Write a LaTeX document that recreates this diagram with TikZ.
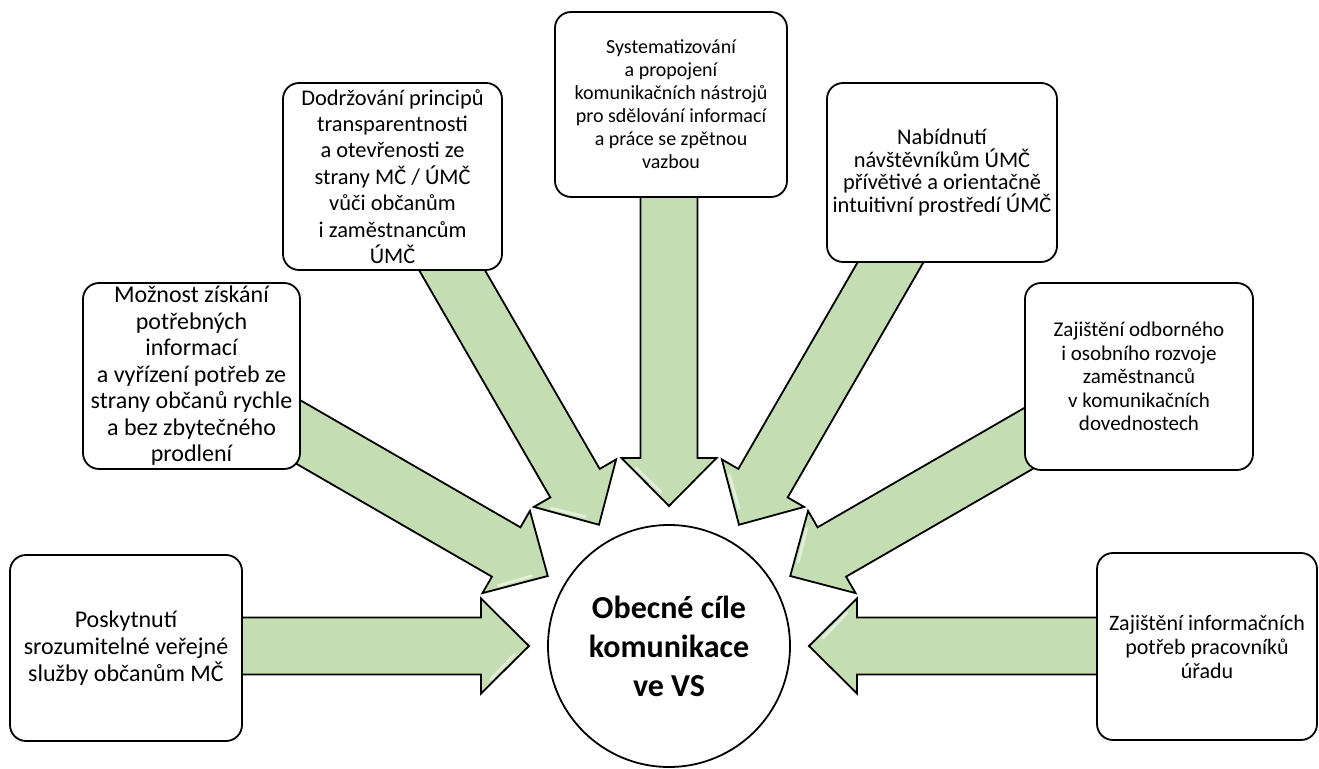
\documentclass[tikz,border=0pt]{standalone}
\usepackage{fontspec}
\setmainfont{Carlito}
\definecolor{green1}{RGB}{196,221,179}
\tikzset{
  goalbox/.style={draw, line width=0.9pt, rounded corners=8pt, fill=white, align=center, inner sep=0pt},
  goalarrow/.style={draw, line width=0.9pt, fill=green1, line join=miter},
  gloss/.style={white, opacity=0.55, line width=1.4pt, line cap=round},
}
\begin{document}
\begin{tikzpicture}[x=0.5pt,y=-0.5pt]
\useasboundingbox (0,0) rectangle (1319,769);
\node[circle, draw, line width=0.9pt, minimum size=121pt, inner sep=0pt, align=center, font=\fontsize{16}{19.5}\selectfont\bfseries] (goal) at (669,646) {Obecné cíle\\komunikace\\ve VS};

\foreach \a in {0,30,...,180}
{
\begin{scope}[shift={(goal.center)}, rotate=\a]
\draw[goalarrow] (140,0) -- (188,47.5) -- (188,28.5) -- (470,28.5) -- (470,-28.5) -- (188,-28.5) -- (188,-47.5) -- cycle;
\draw[gloss] (154,-8) -- (178,-33);
\end{scope}
}

\node[goalbox, minimum width=116pt, minimum height=93pt, font=\fontsize{12}{13.5}\selectfont] (sluzby) at (126,648) {Poskytnutí\\srozumitelné veřejné\\služby občanům MČ};
\node[goalbox, minimum width=108.5pt, minimum height=93pt, font=\fontsize{12}{13.25}\selectfont] (informace) at (191.5,376) {Možnost získání\\potřebných\\informací\\a vyřízení potřeb ze\\strany občanů rychle\\a bez zbytečného\\prodlení};
\node[goalbox, minimum width=109.5pt, minimum height=93.5pt, font=\fontsize{11.2}{13.2}\selectfont] (transparence) at (392.5,176.5) {Dodržování principů\\transparentnosti\\a otevřenosti ze\\strany MČ / ÚMČ\\vůči občanům\\i zaměstnancům\\ÚMČ};
\node[goalbox, minimum width=116pt, minimum height=92.5pt, font=\fontsize{10}{11.5}\selectfont] (nastroje) at (671,104.5) {Systematizování\\a propojení\\komunikačních nástrojů\\pro sdělování informací\\a práce se zpětnou\\vazbou};
\node[goalbox, minimum width=115pt, minimum height=89.5pt, font=\fontsize{11.2}{11.2}\selectfont] (prostredi) at (942,172.5) {Nabídnutí\\návštěvníkům ÚMČ\\přívětivé a orientačně\\intuitivní prostředí ÚMČ};
\node[goalbox, minimum width=114pt, minimum height=93.5pt, font=\fontsize{10.5}{11.75}\selectfont] (rozvoj) at (1139,376.5) {Zajištění odborného\\i osobního rozvoje\\zaměstnanců\\v komunikačních\\dovednostech};
\node[goalbox, minimum width=110pt, minimum height=93.5pt, font=\fontsize{11}{12}\selectfont] (urad) at (1207,646.5) {Zajištění informačních\\potřeb pracovníků\\úřadu};
\end{tikzpicture}
\end{document}
